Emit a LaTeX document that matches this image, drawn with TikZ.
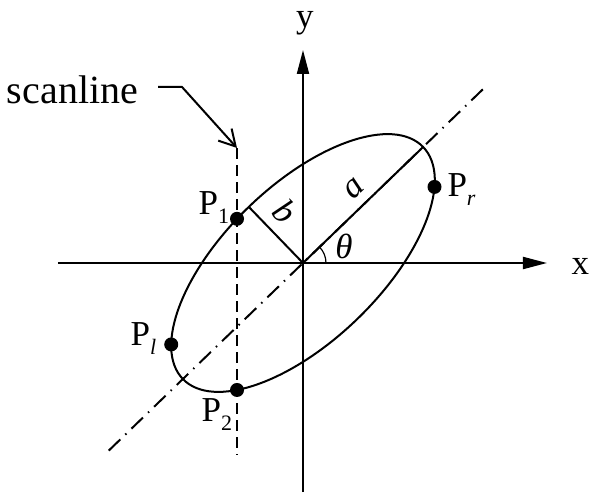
\documentclass[tikz,border=0pt]{standalone}
\usepackage{fontspec}
\setmainfont{Liberation Serif}
\usetikzlibrary{arrows.meta, intersections, calc}
\newcommand\psub[1]{\raisebox{-4.5pt}{\fontsize{11}{11}\selectfont #1}}
\tikzset{
  every picture/.style={line width=1pt, x=0.5pt, y=0.5pt},
  axis/.style={-{Triangle[length=12pt, width=6pt]}},
  lbl/.style={inner sep=0pt, font=\fontsize{17.5}{20}\selectfont},
  tag/.style={inner sep=0pt, font=\fontsize{20}{24}\selectfont},
  dot/.style={circle, fill, inner sep=0pt, minimum size=7pt},
  scanln/.style={dash pattern=on 5.5pt off 3pt},
  majorln/.style={dash pattern=on 8pt off 3.5pt on 0.75pt off 3.5pt},
  pointer/.style={-{Straight Barb[length=8pt, width=9pt]}},
}
\begin{document}
\begin{tikzpicture}
  \useasboundingbox (-303,-241) rectangle (287,263);
  \coordinate (O) at (0,0);
  \coordinate (xa) at (-245,0); \coordinate (xb) at (244,0);
  \coordinate (ya) at (0,-229); \coordinate (yb) at (0,213);
  \coordinate (mb) at (224:270); \coordinate (mt) at (44:250);
  \coordinate (st) at (-66,115); \coordinate (sb) at (-66,-192);
  \coordinate (aend) at (44:167); \coordinate (bend) at (134:78);
  \draw[majorln] (mb) -- (mt);
  \draw[axis] (xa) -- (xb);
  \draw[axis] (ya) -- (yb);
  \node[lbl] (xl) at (277.5,-3.5) {x};
  \node[lbl] (yl) at (2,240) {y};
  \draw[name path=ell, rotate=44] (O) ellipse[x radius=83.5pt, y radius=39pt];
  \path[rotate=44] ({167*cos(-28)},{78*sin(-28)}) coordinate (Pr)
    ({167*cos(155)},{78*sin(155)}) coordinate (Pl);
  \draw[scanln, name path=scan] (st) -- (sb);
  \path[name intersections={of=ell and scan, sort by=scan, by={P1,P2}}];
  \draw (O) -- node[lbl, sloped, above=4.5pt, pos=0.53] (alb) {\textit{a}} (aend);
  \draw (bend) -- node[lbl, sloped, above=5pt, pos=0.37] (blb) {\textit{b}} (O);
  \draw[line width=0.6pt] ([shift={(23,0)}]O) arc[start angle=0, end angle=44, radius=11.5pt];
  \node[lbl] (th) at (41,17) {\textit{θ}};
  \foreach \p in {P1,P2,Pl,Pr} \node[dot] (d\p) at (\p) {};
  \node[lbl, anchor=base east] (lP1) at ([shift={(-7,4)}]P1) {P\psub{1}};
  \node[lbl, anchor=base east] (lP2) at ([shift={(-4,-32)}]P2) {P\psub{2}};
  \node[lbl, anchor=base east] (lPl) at ([shift={(-14,-1)}]Pl) {P\psub{\textit{l}}};
  \node[lbl, anchor=base west] (lPr) at ([shift={(12,-10)}]Pr) {P\psub{\textit{r}}};
  \node[tag] (scan) at (-230.5,173) {scanline};
  \draw[pointer] ([shift={(19,3)}]scan.east) -- ++(24,0) -- (st);
\end{tikzpicture}
\end{document}
